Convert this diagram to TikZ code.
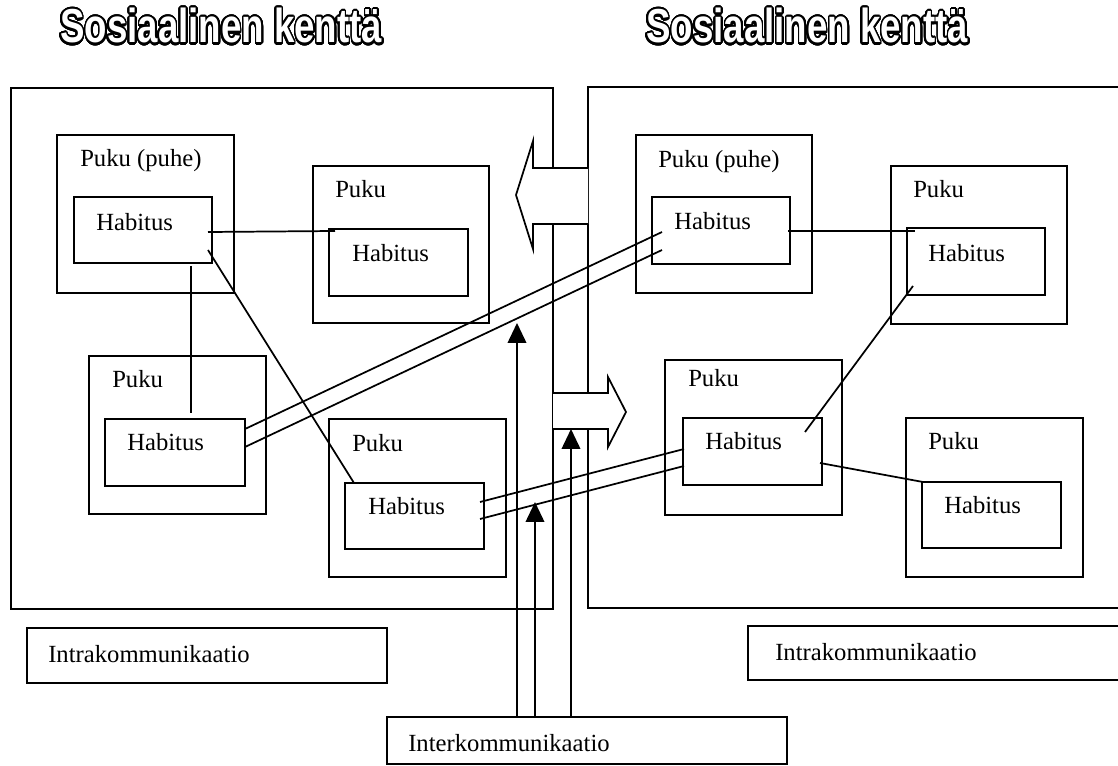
\documentclass[tikz,border=0pt]{standalone}
\usepackage{fontspec}
\setmainfont{Liberation Serif}
\setsansfont{Liberation Sans}
\usepackage{contour}
\contourlength{1.2pt}
\contournumber{40}
\usetikzlibrary{arrows.meta,fit}

\newcommand{\fieldtitle}[1]{\scalebox{1}[1.3]{\color{white}\contour{black}{#1}}}

\tikzset{
  frame/.style={draw, line width=1.3pt, inner sep=0pt},
  lbl/.style={font=\fontsize{18.5}{22}\selectfont, inner sep=0pt, anchor=base west},
  ttl/.style={font=\fontsize{27.5}{31}\selectfont\sffamily\bfseries, inner sep=0pt, anchor=base west},
  link/.style={line width=1.3pt},
  bigarrow/.style={draw, fill=white, line width=1.3pt, line join=miter},
  uparrow/.style={line width=1.3pt, -{Triangle[length=15pt,width=14pt]}}
}

\begin{document}
\begin{tikzpicture}[x=0.75pt, y=-0.75pt]
\useasboundingbox (0,0) rectangle (1118,766);

% headings
\node[ttl] (ttlL) at (60,43) {\fieldtitle{Sosiaalinen kenttä}};
\node[ttl] (ttlR) at (646,43) {\fieldtitle{Sosiaalinen kenttä}};

% the two social fields
\node[frame, fit={(11,88) (553,609)}] (fieldL) {};
\node[frame, fit={(588,87) (1130,608)}] (fieldR) {};

% left field: costumes and habitus
\node[frame, fit={(57,135) (234,293)}] (P1) {};
\node[lbl] (tP1) at (80,167) {Puku (puhe)};
\node[frame, fit={(74,197) (212,263)}] (H1) {};
\node[lbl] (tH1) at (96,231) {Habitus};

\node[frame, fit={(313,166) (489,323)}] (P2) {};
\node[lbl] (tP2) at (335,198) {Puku};
\node[frame, fit={(329,229) (468,296)}] (H2) {};
\node[lbl] (tH2) at (352,262) {Habitus};

\node[frame, fit={(89,356) (266,514)}] (P3) {};
\node[lbl] (tP3) at (112,388) {Puku};
\node[frame, fit={(105,419) (245,486)}] (H3) {};
\node[lbl] (tH3) at (127,451) {Habitus};

\node[frame, fit={(329,419) (506,577)}] (P4) {};
\node[lbl] (tP4) at (352,452) {Puku};
\node[frame, fit={(345,483) (484,549)}] (H4) {};
\node[lbl] (tH4) at (368,514) {Habitus};

% right field: costumes and habitus
\node[frame, fit={(636,135) (812,293)}] (Q1) {};
\node[lbl] (tQ1) at (658,168) {Puku (puhe)};
\node[frame, fit={(652,197) (790,264)}] (K1) {};
\node[lbl] (tK1) at (674,230) {Habitus};

\node[frame, fit={(891,166) (1067,324)}] (Q2) {};
\node[lbl] (tQ2) at (913,198) {Puku};
\node[frame, fit={(907,228) (1045,295)}] (K2) {};
\node[lbl] (tK2) at (928,262) {Habitus};

\node[frame, fit={(665,360) (842,515)}] (Q3) {};
\node[lbl] (tQ3) at (688,387) {Puku};
\node[frame, fit={(683,418) (822,485)}] (K3) {};
\node[lbl] (tK3) at (705,450) {Habitus};

\node[frame, fit={(906,418) (1083,577)}] (Q4) {};
\node[lbl] (tQ4) at (928,450) {Puku};
\node[frame, fit={(922,482) (1061,548)}] (K4) {};
\node[lbl] (tK4) at (944,513) {Habitus};

% captions
\node[frame, fit={(27,628) (387,683)}] (intraL) {};
\node[lbl] (tIntraL) at (48,662) {Intrakommunikaatio};
\node[frame, fit={(748,626) (1130,680)}] (intraR) {};
\node[lbl] (tIntraR) at (775,660) {Intrakommunikaatio};
\node[frame, fit={(387,717) (787,764)}] (inter) {};
\node[lbl] (tInter) at (408,751) {Interkommunikaatio};

% connector end points
\coordinate (h1r) at (208,232);   \coordinate (h2l) at (335,231);
\coordinate (h1b) at (191,266);   \coordinate (h3t) at (191,413);
\coordinate (h1d) at (208,250);   \coordinate (h4t) at (354,483);
\coordinate (h3a) at (245,429);   \coordinate (k1a) at (662,232);
\coordinate (h3b) at (245,447);   \coordinate (k1b) at (662,250);
\coordinate (h4a) at (480,502);   \coordinate (k3a) at (684,449);
\coordinate (h4b) at (480,519);   \coordinate (k3b) at (684,466);
\coordinate (k1r) at (788,231);   \coordinate (k2l) at (915,231);
\coordinate (k2d) at (913,286);   \coordinate (k3t) at (805,432);
\coordinate (k3r) at (820,463);   \coordinate (k4t) at (923,482);

% links within the fields
\draw[link] (h1r) -- (h2l);
\draw[link] (h1b) -- (h3t);
\draw[link] (h1d) -- (h4t);
\draw[link] (k1r) -- (k2l);
\draw[link] (k2d) -- (k3t);
\draw[link] (k3r) -- (k4t);

% links between the fields
\draw[link] (h3a) -- (k1a);
\draw[link] (h3b) -- (k1b);
\draw[link] (h4a) -- (k3a);
\draw[link] (h4b) -- (k3b);

% block arrows between the fields
\path[bigarrow] (588,168) -- (533,168) -- (533,141) -- (516,195)
  -- (533,249) -- (533,224) -- (588,224);
\path[bigarrow] (553,393) -- (608,393) -- (608,377) -- (626,412)
  -- (608,447) -- (608,429) -- (553,429);

% arrows rising from the interkommunikaatio box
\coordinate (up1) at (517,323);
\coordinate (up2) at (535,502);
\coordinate (up3) at (571,429);
\draw[uparrow] (inter.north -| up1) -- (up1);
\draw[uparrow] (inter.north -| up2) -- (up2);
\draw[uparrow] (inter.north -| up3) -- (up3);
\end{tikzpicture}
\end{document}
